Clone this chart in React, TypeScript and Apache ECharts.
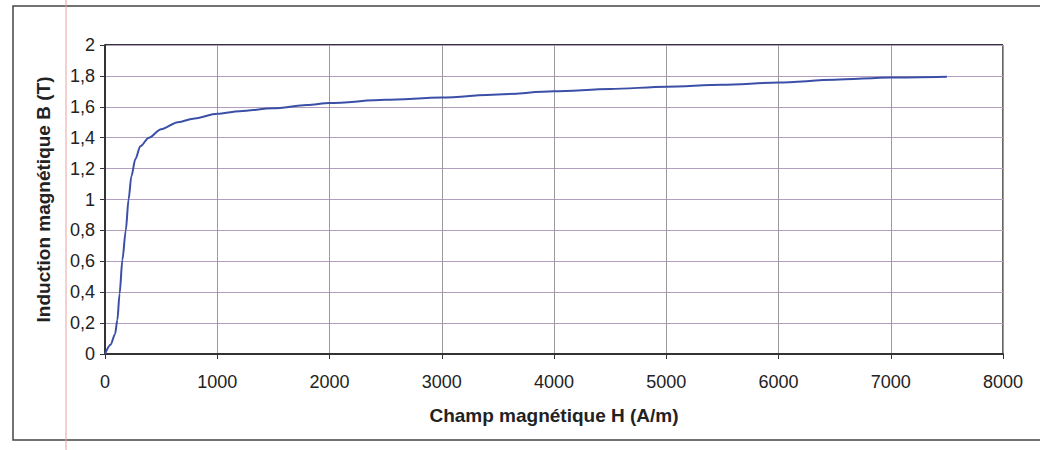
import React, { useEffect, useRef } from "react";
import * as echarts from "echarts";

const fieldH: number[] = [0, 50, 90, 110, 130, 155, 185, 210, 235, 270, 315, 390, 500, 650, 800, 1000, 1200, 1500, 1800, 2000, 2500, 3000, 3500, 4000, 4500, 5000, 5500, 6000, 6500, 7000, 7500];
const inductionB: number[] = [0, 0.06, 0.13, 0.22, 0.39, 0.61, 0.8, 1.0, 1.15, 1.26, 1.345, 1.4, 1.455, 1.5, 1.525, 1.555, 1.572, 1.59, 1.612, 1.625, 1.645, 1.66, 1.68, 1.7, 1.715, 1.73, 1.742, 1.757, 1.775, 1.79, 1.795];

const xTitle = "Champ magnétique H (A/m)";
const yTitle = "Induction magnétique B (T)";

export default function App() {
  const ref = useRef<HTMLDivElement>(null);
  useEffect(() => {
    if (!ref.current) return;
    const chart = echarts.init(ref.current, null, { renderer: "svg" });
    const font = "'Liberation Sans', Arial, sans-serif";
    chart.setOption({
      animation: false,
      backgroundColor: "#ffffff",
      grid: { left: 105, right: 37, top: 45, bottom: 96 },
      graphic: [
        {
          type: "rect",
          shape: { x: 13, y: 6, width: 1060, height: 434 },
          style: { fill: "none", stroke: "#444", lineWidth: 1.5 },
          z: -1,
        },
        {
          type: "line",
          shape: { x1: 66, y1: 0, x2: 66, y2: 450 },
          style: { stroke: "#e9a0a0", lineWidth: 1 },
          z: -1,
        },
        {
          type: "line",
          shape: { x1: 1003, y1: 45, x2: 1003, y2: 354 },
          style: { stroke: "#333", lineWidth: 1.5 },
        },
        {
          type: "line",
          shape: { x1: 105, y1: 45, x2: 1003, y2: 45 },
          style: { stroke: "#333", lineWidth: 2 },
        },
      ],
      xAxis: {
        type: "value",
        min: 0,
        max: 8000,
        interval: 1000,
        name: xTitle,
        nameLocation: "middle",
        nameGap: 52,
        nameTextStyle: { fontFamily: font, fontWeight: "bold", fontSize: 19, color: "#222" },
        axisLine: { show: true, onZero: false, lineStyle: { color: "#333", width: 2 } },
        axisTick: { show: true, length: 5, lineStyle: { color: "#333" } },
        axisLabel: { fontFamily: font, fontSize: 18, color: "#222", margin: 19, formatter: (v: number) => String(v) },
        splitLine: { show: true, lineStyle: { color: "#9a9a9a", width: 1 } },
      },
      yAxis: {
        type: "value",
        min: 0,
        max: 2,
        interval: 0.2,
        name: yTitle,
        nameLocation: "middle",
        nameGap: 52,
        nameTextStyle: { fontFamily: font, fontWeight: "bold", fontSize: 19, color: "#222" },
        axisLine: { show: true, lineStyle: { color: "#333", width: 2 } },
        axisTick: { show: true, length: 5, lineStyle: { color: "#333" } },
        axisLabel: {
          fontFamily: font,
          fontSize: 18,
          color: "#222",
          margin: 10,
          formatter: (v: number) => String(Math.round(v * 10) / 10).replace(".", ","),
        },
        splitLine: { show: true, lineStyle: { color: "#b49ec0", width: 1 } },
      },
      series: [
        {
          type: "line",
          data: fieldH.map((h, i) => [h, inductionB[i]]),
          smooth: 0.3,
          smoothMonotone: "x",
          showSymbol: false,
          lineStyle: { color: "#3b4fa6", width: 2 },
        },
      ],
    });
    return () => chart.dispose();
  }, []);
  return <div ref={ref} style={{ width: 1040, height: 450, position: "absolute", left: 0, top: 0 }} />;
}
